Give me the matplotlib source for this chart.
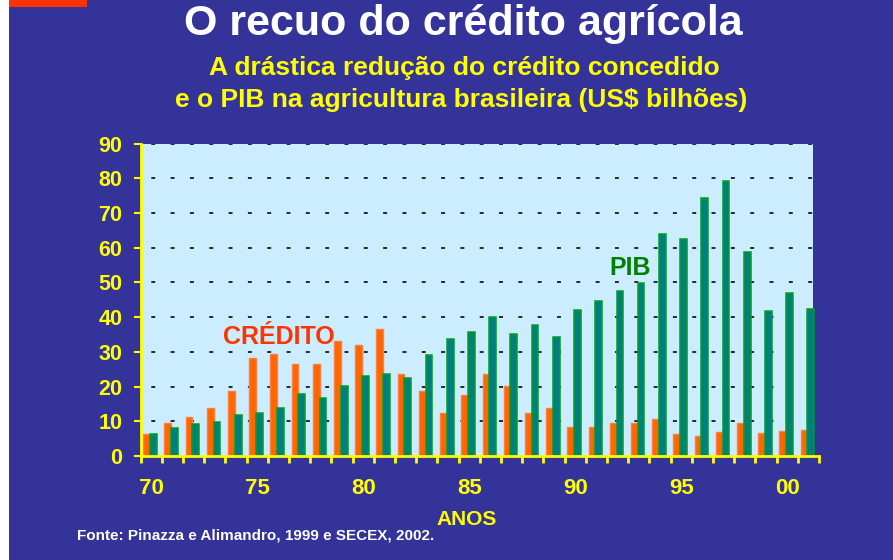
import matplotlib
matplotlib.use("Agg")
import matplotlib.pyplot as plt
from matplotlib.patches import Rectangle
import numpy as np

plt.rcParams['font.family'] = ['Liberation Sans', 'DejaVu Sans']

years = list(range(1970, 2002))
credito = [6.3, 9.6, 11.3, 13.8, 18.8, 28.1, 29.3, 26.5, 26.5, 33.0,
           32.1, 36.5, 23.7, 18.8, 12.4, 17.5, 23.7, 20.3, 12.4, 13.8,
           8.3, 8.3, 9.6, 9.6, 10.6, 6.2, 5.7, 6.8, 9.6, 6.6,
           7.2, 7.4]
pib = [6.3, 8.2, 9.2, 9.7, 11.9, 12.4, 13.8, 18.0, 16.8, 20.3,
       23.0, 23.7, 22.5, 29.2, 33.7, 35.8, 40.0, 35.0, 37.8, 34.2,
       42.0, 44.7, 47.5, 49.8, 63.8, 62.6, 74.4, 79.2, 58.8, 41.9,
       47.0, 42.4]
tick_years = [1970, 1975, 1980, 1985, 1990, 1995, 2000]
tick_labels = ['70', '75', '80', '85', '90', '95', '00']
yticks = list(range(0, 100, 10))

BG = '#333399'
YEL = '#FFFF00'
W, H = 893, 560
fig = plt.figure(figsize=(W / 100, H / 100), dpi=100, facecolor=BG)

# white strip on the left and red tab at the top-left
fig.patches.append(Rectangle((0, 0), 9 / W, 1, transform=fig.transFigure,
                             facecolor='white', edgecolor='none', zorder=0))
fig.patches.append(Rectangle((9 / W, 1 - 7 / H), 78 / W, 7 / H, transform=fig.transFigure,
                             facecolor='#FF3300', edgecolor='none', zorder=0))

left, right, top, bottom = 140.5, 819, 143.5, 456
ax = fig.add_axes([left / W, 1 - bottom / H, (right - left) / W, (bottom - top) / H])
ax.set_facecolor('none')
fill_frac = (813 - left) / (right - left)
ax.add_patch(Rectangle((0, 0), fill_frac, 1, transform=ax.transAxes,
                       facecolor='#CCECFF', edgecolor='none', zorder=0))

x = np.arange(len(years))
bw = 0.32
ax.bar(x - 0.21, credito, width=bw, color='#FF6600', edgecolor='#FF7E40',
       linewidth=1.0, zorder=3)
ax.bar(x + 0.11, pib, width=bw, color='#007F7F', edgecolor='#00A020',
       linewidth=1.1, zorder=3)

ax.set_xlim(-0.5, len(years) - 0.5)
ax.set_ylim(0, 90)

# grid
for v in yticks[1:]:
    ax.plot([-0.5, fill_frac * len(years) - 0.5], [v, v],
            color='#1a1a1a', lw=1.3, linestyle=(5, (2.2, 8.5)), zorder=1)

for s in ['top', 'right']:
    ax.spines[s].set_visible(False)
for s in ['left', 'bottom']:
    ax.spines[s].set_color(YEL)
    ax.spines[s].set_linewidth(2)
    ax.spines[s].set_zorder(4)

ax.set_yticks(yticks)
ax.set_yticklabels([str(v) for v in yticks])
ax.tick_params(axis='y', colors=YEL, length=5, width=1.5, pad=8, labelsize=15.5)
for t in ax.get_yticklabels():
    t.set_fontweight('bold')

ax.set_xticks([years.index(y) for y in tick_years])
ax.set_xticklabels(tick_labels)
ax.tick_params(axis='x', which='major', length=0, pad=16, colors=YEL, labelsize=16)
for t in ax.get_xticklabels():
    t.set_fontweight('bold')
ax.set_xticks(np.arange(len(years) + 1) - 0.5, minor=True)
ax.tick_params(axis='x', which='minor', length=5, width=2, color=YEL, direction='out')


def ftext(px, py, s, **kw):
    fig.text(px / W, 1 - py / H, s, **kw)


ftext(279, 337, 'CRÉDITO', fontsize=18, fontweight='bold',
      color='#FF3300', ha='center', va='center', zorder=5)
ftext(630, 268, 'PIB', fontsize=18, fontweight='bold',
      color='#008000', ha='center', va='center', zorder=5)

ftext(463, 35, 'O recuo do crédito agrícola', fontsize=31, fontweight='bold',
      color='white', ha='center', va='baseline')
ftext(464, 75, 'A drástica redução do crédito concedido', fontsize=19,
      fontweight='bold', color=YEL, ha='center', va='baseline')
ftext(461, 107, 'e o PIB na agricultura brasileira (US$ bilhões)', fontsize=19,
      fontweight='bold', color=YEL, ha='center', va='baseline')
ftext(467, 525, 'ANOS', fontsize=15, fontweight='bold', color=YEL,
      ha='center', va='baseline')
ftext(77, 540, 'Fonte: Pinazza e Alimandro, 1999 e SECEX, 2002.', fontsize=11,
      fontweight='bold', color='white', ha='left', va='baseline')

fig.savefig('out.png', dpi=100, facecolor=BG)
